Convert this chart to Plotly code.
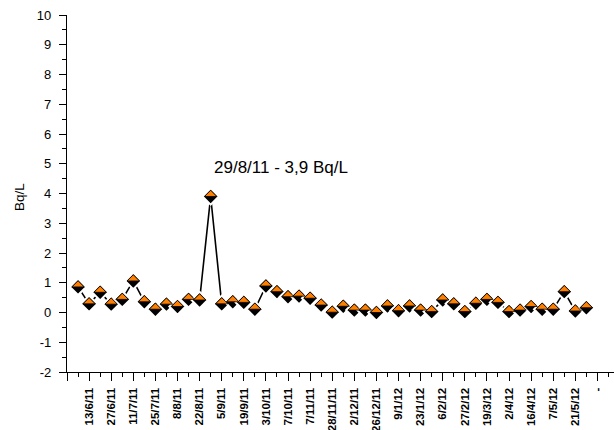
import plotly.graph_objects as go

# Measured activity (Bq/L), one value per sampling, in order
values = [0.86, 0.29, 0.68, 0.28, 0.44, 1.06, 0.36, 0.11, 0.28, 0.20,
          0.44, 0.42, 3.90, 0.29, 0.36, 0.34, 0.11, 0.89, 0.70, 0.53,
          0.55, 0.48, 0.25, 0.01, 0.21, 0.08, 0.08, 0.00, 0.22, 0.06,
          0.22, 0.08, 0.03, 0.42, 0.29, 0.03, 0.31, 0.44, 0.34, 0.03,
          0.08, 0.20, 0.11, 0.11, 0.70, 0.05, 0.16]
index = list(range(len(values)))

# Labelled ticks (every second sampling)
tick_labels = ["13/6/11", "27/6/11", "11/7/11", "25/7/11", "8/8/11", "22/8/11",
               "5/9/11", "19/9/11", "3/10/11", "7/10/11", "7/11/11", "28/11/11",
               "2/12/11", "26/12/11", "9/1/12", "23/1/12", "6/2/12", "27/2/12",
               "19/3/12", "2/4/12", "16/4/12", "7/5/12", "21/5/12", "-"]
tick_pos = [1 + 2 * k for k in range(len(tick_labels))]
major_vals = [-1] + tick_pos
major_text = [""] + tick_labels
minor_vals = [2 * k for k in range(len(tick_labels) + 1)]

y_ticks = [-2, -1, 0, 1, 2, 3, 4, 5, 6, 7, 8, 9, 10]
y_text = [str(v) for v in y_ticks]

font = "Liberation Sans, Arial, sans-serif"
orange = "#FF8000"

fig = go.Figure()
fig.add_trace(go.Scatter(
    x=index, y=values, mode="lines+markers",
    line=dict(color="black", width=1.6),
    marker=dict(symbol="diamond", size=12.5, color="black",
                line=dict(color="white", width=2)),
    showlegend=False, hoverinfo="x+y",
))

# orange upper half of each diamond
shapes = []
for xi, yi in zip(index, values):
    shapes.append(dict(
        type="path", xref="x", yref="y",
        xsizemode="pixel", ysizemode="pixel",
        xanchor=xi, yanchor=yi,
        path="M-6.2,0 L0,6.2 L6.2,0 Z",
        fillcolor=orange, line=dict(color="black", width=0.8),
        layer="above",
    ))

fig.update_layout(
    width=614, height=430,
    margin=dict(l=67, r=0, t=15, b=58, autoexpand=False),
    paper_bgcolor="white", plot_bgcolor="white",
    font=dict(family=font, size=12, color="black"),
    shapes=shapes,
    xaxis=dict(
        range=[-1, 48.5], showgrid=False, zeroline=False, automargin=False,
        showline=True, linecolor="black", linewidth=1.3,
        tickmode="array", tickvals=major_vals, ticktext=major_text,
        ticks="outside", ticklen=8, tickwidth=1.3, tickcolor="black",
        tickangle=-90, ticklabelstandoff=2,
        tickfont=dict(family=font, size=11.5, color="black", weight="bold"),
        minor=dict(tickvals=minor_vals, ticks="outside", ticklen=4,
                   tickwidth=1.3, tickcolor="black"),
    ),
    yaxis=dict(
        range=[-2, 10], showgrid=False, zeroline=False, automargin=False,
        showline=True, linecolor="black", linewidth=1.3,
        tickmode="array", tickvals=y_ticks, ticktext=y_text,
        ticks="outside", ticklen=7, tickwidth=1.3, tickcolor="black",
        ticklabelstandoff=5,
        tickfont=dict(family=font, size=13, color="black"),
        minor=dict(dtick=0.5, ticks="outside", ticklen=4,
                   tickwidth=1.3, tickcolor="black"),
    ),
    annotations=[
        dict(text="29/8/11 - 3,9 Bq/L", xref="paper", yref="paper",
             x=0.392, y=0.572, xanchor="center", yanchor="middle",
             showarrow=False, font=dict(family=font, size=17, color="black")),
        dict(text="Bq/L", xref="paper", yref="paper",
             x=-0.088, y=0.49, xanchor="center", yanchor="middle",
             textangle=-90, showarrow=False,
             font=dict(family=font, size=13.5, color="black")),
    ],
)

fig.write_html("out.html")
